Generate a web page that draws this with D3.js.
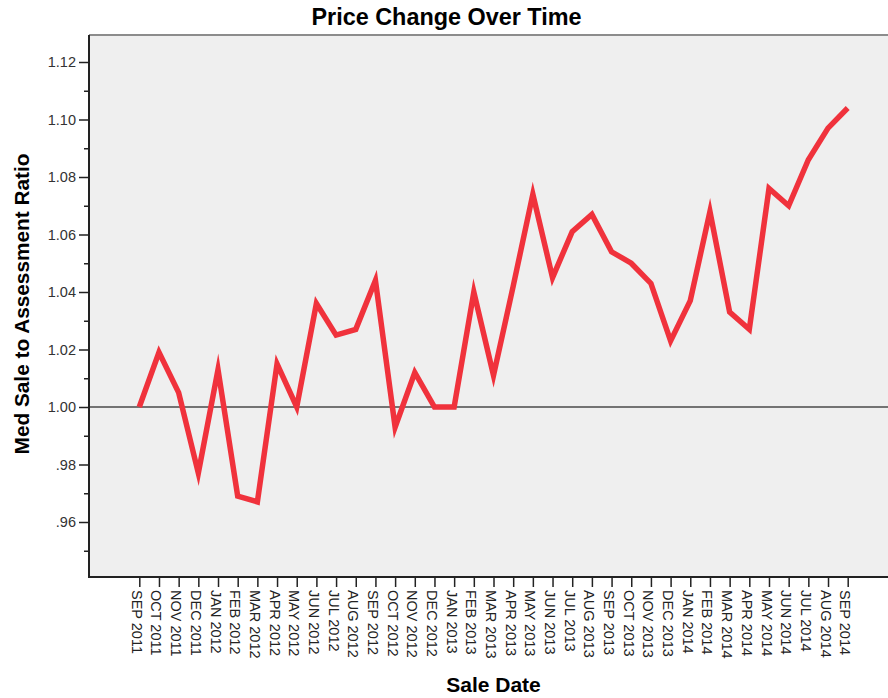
<!DOCTYPE html>
<html>
<head>
<meta charset="utf-8">
<script src="https://cdn.jsdelivr.net/npm/d3@7"></script>
<style>
  body { margin: 0; background: #fff; }
  svg { display: block; font-family: "Liberation Sans", Arial, sans-serif; }
</style>
</head>
<body>
<svg id="chart" width="888" height="698"></svg>
<script>
const months = [
  "SEP 2011", "OCT 2011", "NOV 2011", "DEC 2011", "JAN 2012", "FEB 2012", "MAR 2012",
  "APR 2012", "MAY 2012", "JUN 2012", "JUL 2012", "AUG 2012", "SEP 2012", "OCT 2012",
  "NOV 2012", "DEC 2012", "JAN 2013", "FEB 2013", "MAR 2013", "APR 2013", "MAY 2013",
  "JUN 2013", "JUL 2013", "AUG 2013", "SEP 2013", "OCT 2013", "NOV 2013", "DEC 2013",
  "JAN 2014", "FEB 2014", "MAR 2014", "APR 2014", "MAY 2014", "JUN 2014", "JUL 2014",
  "AUG 2014", "SEP 2014"
];
const ratio = [
  1.000, 1.019, 1.005, 0.977, 1.013, 0.969, 0.967,
  1.015, 1.000, 1.036, 1.025, 1.027, 1.044, 0.993,
  1.012, 1.000, 1.000, 1.040, 1.011, 1.042, 1.074,
  1.045, 1.061, 1.067, 1.054, 1.050, 1.043, 1.023,
  1.037, 1.068, 1.033, 1.027, 1.076, 1.070, 1.086,
  1.097, 1.104
];
const yMajor = [0.96, 0.98, 1.00, 1.02, 1.04, 1.06, 1.08, 1.10, 1.12];
const yMajorLabels = [".96", ".98", "1.00", "1.02", "1.04", "1.06", "1.08", "1.10", "1.12"];
const yMinor = [0.95, 0.97, 0.99, 1.01, 1.03, 1.05, 1.07, 1.09, 1.11];
const refValue = 1.00;

const plot = { left: 89, top: 35, right: 892, bottom: 577 };
const svg = d3.select("#chart");

const x = d3.scalePoint().domain(months).range([139.3, 847.7]);
const y = d3.scaleLinear().domain([1.00, 1.12]).range([407, 62]);

// plot background
svg.append("rect")
  .attr("x", plot.left).attr("y", plot.top)
  .attr("width", plot.right - plot.left).attr("height", plot.bottom - plot.top)
  .attr("fill", "#efefef");

// top frame
svg.append("line")
  .attr("x1", plot.left).attr("x2", plot.right)
  .attr("y1", plot.top).attr("y2", plot.top)
  .attr("stroke", "#8c8c8c").attr("stroke-width", 2);

// reference line
svg.append("line")
  .attr("x1", plot.left).attr("x2", plot.right)
  .attr("y1", y(refValue)).attr("y2", y(refValue))
  .attr("stroke", "#4a4a4a").attr("stroke-width", 1.6);

// y axis
const yAxis = d3.axisLeft(y).tickValues(yMajor).tickSize(10).tickPadding(3)
  .tickFormat((d, i) => yMajorLabels[i]);
const gy = svg.append("g").attr("transform", `translate(${plot.left},0)`).call(yAxis);
gy.select(".domain").remove();
gy.selectAll(".tick line").attr("stroke", "#222").attr("stroke-width", 1.5);
gy.selectAll(".tick text").attr("fill", "#333").style("font-size", "14.5px")
  .style("font-family", "Liberation Sans, Arial, sans-serif");

const yAxisMinor = d3.axisLeft(y).tickValues(yMinor).tickSize(5).tickFormat("");
const gym = svg.append("g").attr("transform", `translate(${plot.left},0)`).call(yAxisMinor);
gym.select(".domain").remove();
gym.selectAll(".tick line").attr("stroke", "#222").attr("stroke-width", 1.5);

// x axis
const xAxis = d3.axisBottom(x).tickSize(10).tickPadding(0);
const gx = svg.append("g").attr("transform", `translate(0,${plot.bottom})`).call(xAxis);
gx.select(".domain").remove();
gx.selectAll(".tick line").attr("stroke", "#222").attr("stroke-width", 1.5);
gx.selectAll(".tick text")
  .attr("transform", "rotate(90)")
  .attr("x", 13).attr("y", 0).attr("dy", "0.55em")
  .attr("text-anchor", "start")
  .attr("fill", "#222")
  .style("font-size", "14.5px")
  .style("font-family", "Liberation Sans, Arial, sans-serif");

// left / bottom frame
svg.append("line")
  .attr("x1", plot.left).attr("x2", plot.left)
  .attr("y1", plot.top).attr("y2", plot.bottom)
  .attr("stroke", "#222").attr("stroke-width", 2);
svg.append("line")
  .attr("x1", plot.left - 1).attr("x2", plot.right)
  .attr("y1", plot.bottom).attr("y2", plot.bottom)
  .attr("stroke", "#222").attr("stroke-width", 2);

// data line
const line = d3.line()
  .x((d, i) => x(months[i]))
  .y(d => y(d));
svg.append("path")
  .datum(ratio)
  .attr("d", line)
  .attr("fill", "none")
  .attr("stroke", "#f0323c")
  .attr("stroke-width", 5.5)
  .attr("stroke-linejoin", "miter")
  .attr("stroke-miterlimit", 10);

// titles
svg.append("text")
  .attr("x", 446.5).attr("y", 25)
  .attr("text-anchor", "middle")
  .style("font-size", "23.4px").style("font-weight", "bold")
  .text("Price Change Over Time");

svg.append("text")
  .attr("x", 493.5).attr("y", 692)
  .attr("text-anchor", "middle")
  .style("font-size", "21px").style("font-weight", "bold")
  .text("Sale Date");

svg.append("text")
  .attr("transform", "translate(29,304) rotate(-90)")
  .attr("text-anchor", "middle")
  .style("font-size", "20.8px").style("font-weight", "bold")
  .text("Med Sale to Assessment Ratio");
</script>
</body>
</html>
